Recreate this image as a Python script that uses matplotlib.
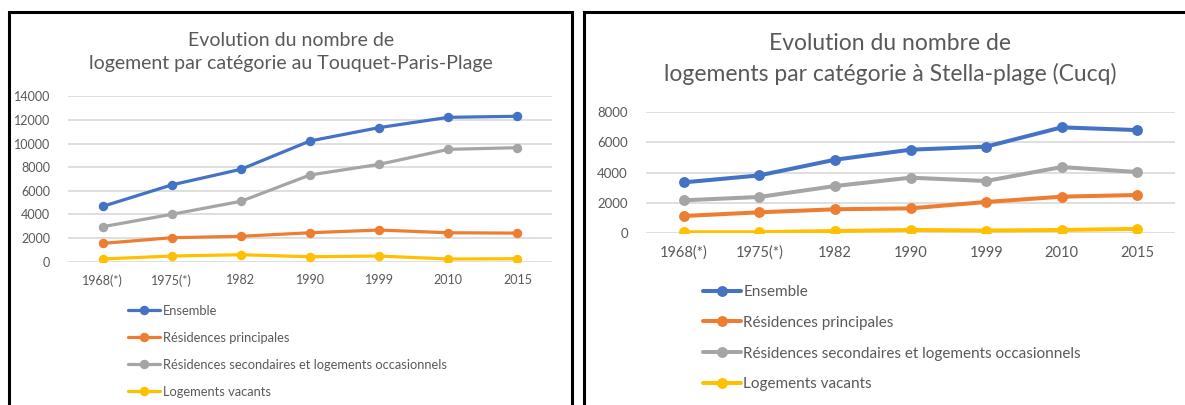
import matplotlib
matplotlib.use("Agg")
import matplotlib.pyplot as plt
from matplotlib.patches import Rectangle

plt.rcParams['font.family'] = ['Lato', 'DejaVu Sans']

categories = ["1968(*)", "1975(*)", "1982", "1990", "1999", "2010", "2015"]
series_names = ["Ensemble", "Résidences principales",
                "Résidences secondaires et logements occasionnels", "Logements vacants"]
colors = ["#4472C4", "#ED7D31", "#A5A5A5", "#FFC000"]

# Le Touquet-Paris-Plage
touquet_ensemble = [4680, 6500, 7820, 10220, 11350, 12220, 12310]
touquet_principales = [1550, 2030, 2150, 2450, 2680, 2450, 2420]
touquet_secondaires = [2960, 4010, 5110, 7340, 8240, 9510, 9650]
touquet_vacants = [230, 480, 590, 420, 480, 230, 250]

# Stella-plage (Cucq)
stella_ensemble = [3350, 3810, 4840, 5500, 5700, 6970, 6790]
stella_principales = [1140, 1380, 1580, 1640, 2060, 2410, 2520]
stella_secondaires = [2170, 2390, 3110, 3660, 3440, 4360, 4030]
stella_vacants = [70, 70, 150, 220, 180, 220, 290]

touquet_title = "Evolution du nombre de\nlogement par catégorie au Touquet-Paris-Plage"
stella_title = "Evolution du nombre de\nlogements par catégorie à Stella-plage (Cucq)"

W, H = 1185, 405
fig = plt.figure(figsize=(W / 100, H / 100), dpi=100)
TXT = "#595959"


def fx(px):
    return px / W


def fy(py):
    return 1 - py / H


def draw(ax, data, ymax, ystep, lw, ms, tick_fs_x, tick_fs_y):
    x = list(range(len(categories)))
    for vals, c, name in zip(data, colors, series_names):
        ax.plot(x, vals, color=c, lw=lw, marker="o", ms=ms, label=name,
                solid_capstyle="round", zorder=3)
    ax.set_xlim(-0.5, len(categories) - 0.5)
    ax.set_ylim(0, ymax)
    ax.set_yticks(range(0, ymax + 1, ystep))
    ax.set_xticks(x)
    ax.set_xticklabels(categories)
    ax.grid(axis="y", color="#D9D9D9", lw=1.2)
    ax.set_axisbelow(True)
    for s in ax.spines.values():
        s.set_visible(False)
    ax.tick_params(axis="both", length=0, colors=TXT)
    ax.tick_params(axis="x", labelsize=tick_fs_x, pad=9)
    ax.tick_params(axis="y", labelsize=tick_fs_y, pad=13)


# Left chart
ax1 = fig.add_axes([fx(68), fy(261.7), fx(552 - 68), (261.7 - 96.3) / H])
draw(ax1, [touquet_ensemble, touquet_principales, touquet_secondaires, touquet_vacants],
     14000, 2000, 2.3, 5.8, 9, 9)
fig.text(fx(291), fy(52), touquet_title, ha="center", va="center", fontsize=14,
         color=TXT, linespacing=1.5)
h, l = ax1.get_legend_handles_labels()
fig.legend(h, l, loc="upper left", bbox_to_anchor=(fx(128), fy(305)), frameon=False,
           fontsize=9.3, labelcolor=TXT, handlelength=2.5, handletextpad=0.2,
           labelspacing=1.15, borderpad=0, borderaxespad=0)

# Right chart
ax2 = fig.add_axes([fx(646), fy(233.3), fx(1175 - 646), (233.3 - 111.7) / H])
draw(ax2, [stella_ensemble, stella_principales, stella_secondaires, stella_vacants],
     8000, 2000, 2.9, 6.8, 10.5, 9.5)
fig.text(fx(890), fy(59), stella_title, ha="center", va="center", fontsize=16.5,
         color=TXT, linespacing=1.45)
h, l = ax2.get_legend_handles_labels()
fig.legend(h, l, loc="upper left", bbox_to_anchor=(fx(703), fy(285)), frameon=False,
           fontsize=11, labelcolor=TXT, handlelength=2.5, handletextpad=0.15,
           labelspacing=1.1, borderpad=0, borderaxespad=0)

# Panel borders
fig.patches.append(Rectangle((fx(8.5), fy(420)), fx(572 - 8.5), (420 - 12) / H,
                             transform=fig.transFigure, fill=False, ec="black", lw=2.2))
fig.patches.append(Rectangle((fx(584), fy(420)), fx(1200 - 584), (420 - 12) / H,
                             transform=fig.transFigure, fill=False, ec="black", lw=2.2))

fig.savefig("out.png", dpi=100)
